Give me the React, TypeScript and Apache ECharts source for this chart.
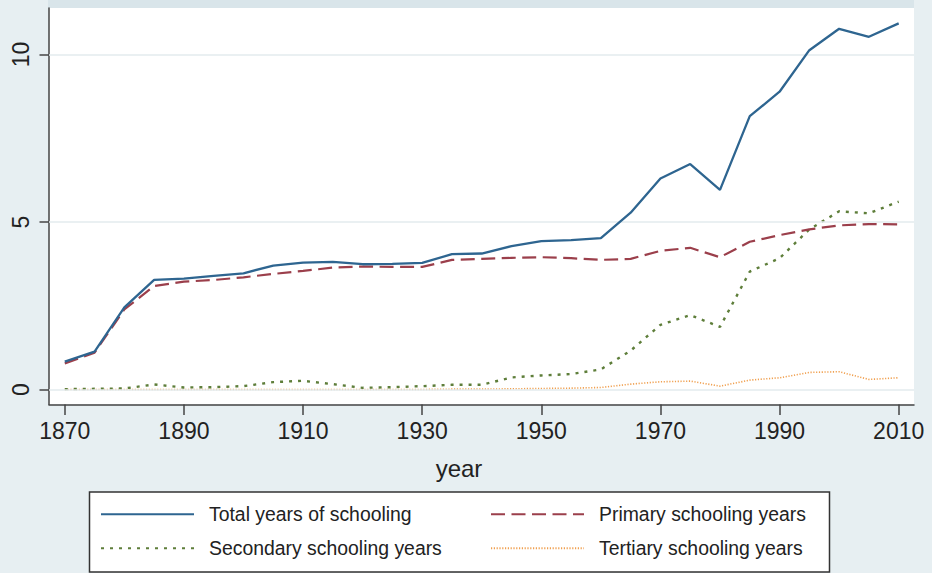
import React, { useEffect, useRef } from "react";
import * as echarts from "echarts";

const years = [1870, 1875, 1880, 1885, 1890, 1895, 1900, 1905, 1910, 1915, 1920, 1925, 1930, 1935, 1940, 1945, 1950, 1955, 1960, 1965, 1970, 1975, 1980, 1985, 1990, 1995, 2000, 2005, 2010];
const totalYears = [0.83, 1.13, 2.45, 3.27, 3.31, 3.39, 3.47, 3.70, 3.79, 3.81, 3.74, 3.75, 3.78, 4.04, 4.06, 4.28, 4.43, 4.46, 4.52, 5.28, 6.30, 6.73, 5.96, 8.16, 8.89, 10.13, 10.77, 10.53, 10.93];
const primaryYears = [0.78, 1.10, 2.39, 3.09, 3.22, 3.27, 3.35, 3.45, 3.54, 3.64, 3.67, 3.66, 3.66, 3.87, 3.90, 3.93, 3.95, 3.92, 3.87, 3.90, 4.14, 4.23, 3.95, 4.41, 4.61, 4.78, 4.90, 4.94, 4.93];
const secondaryYears = [0.01, 0.02, 0.03, 0.15, 0.06, 0.07, 0.10, 0.22, 0.26, 0.16, 0.05, 0.07, 0.10, 0.14, 0.14, 0.36, 0.42, 0.46, 0.60, 1.16, 1.93, 2.22, 1.87, 3.52, 3.92, 4.78, 5.32, 5.26, 5.61];
const tertiaryYears = [0, 0, 0, 0, 0, 0, 0, 0, 0, 0, 0, 0, 0, 0.01, 0.01, 0.02, 0.03, 0.04, 0.06, 0.16, 0.23, 0.25, 0.10, 0.28, 0.35, 0.51, 0.53, 0.30, 0.35];

const xTicks = [1870, 1890, 1910, 1930, 1950, 1970, 1990, 2010];
const yTicks = [0, 5, 10];

const seriesNames = [
  "Total years of schooling",
  "Primary schooling years",
  "Secondary schooling years",
  "Tertiary schooling years",
];

const FONT = "'Liberation Sans', Arial, Helvetica, sans-serif";
const TEXT = "#222222";
const AXIS = "#444444";

function pairs(vals: number[]) {
  return years.map((y, i) => [y, vals[i]]);
}

export default function App() {
  const ref = useRef<HTMLDivElement | null>(null);
  useEffect(() => {
    if (!ref.current) return;
    const chart = echarts.init(ref.current, undefined, { renderer: "svg" });
    const legendBase = (name: string, left: number, top: number) => ({
      data: [name],
      left,
      top,
      padding: 0,
      itemWidth: 93,
      itemHeight: 12,
      selectedMode: false,
      itemStyle: { opacity: 0, color: "transparent", borderWidth: 0 },
      textStyle: {
        fontFamily: FONT,
        fontSize: 19.4,
        color: TEXT,
        lineHeight: 22,
        padding: [0, 0, 0, 10],
      },
    });
    chart.setOption({
      animation: false,
      backgroundColor: "#e7eff2",
      textStyle: { fontFamily: FONT },
      graphic: [
        {
          type: "rect",
          z: -10,
          shape: { x: 48, y: 0, width: 866, height: 8 },
          style: { fill: "#d9e5ea" },
        },
        {
          type: "rect",
          z: 0,
          shape: { x: 89.5, y: 492, width: 740, height: 80 },
          style: { fill: "#ffffff", stroke: "#333333", lineWidth: 1.5 },
        },
      ],
      grid: {
        left: 49,
        right: 18,
        top: 8,
        bottom: 168.5,
        show: true,
        backgroundColor: "#ffffff",
        borderWidth: 0,
      },
      legend: [
        legendBase(seriesNames[0], 100, 503.3),
        legendBase(seriesNames[1], 490, 503.3),
        legendBase(seriesNames[2], 100, 537.3),
        legendBase(seriesNames[3], 490, 537.3),
      ],
      xAxis: {
        type: "value",
        min: 1867.35,
        max: 2012.57,
        name: "year",
        nameLocation: "middle",
        nameGap: 51.5,
        nameTextStyle: {
          fontFamily: FONT,
          fontSize: 24,
          color: TEXT,
          lineHeight: 24,
          padding: [0, 45, 0, 0],
        },
        axisLine: { show: true, onZero: false, lineStyle: { color: AXIS, width: 1.5 } },
        axisTick: {
          show: true,
          length: 10.5,
          customValues: xTicks,
          lineStyle: { color: AXIS, width: 1.5 },
        },
        axisLabel: {
          customValues: xTicks,
          formatter: (v: number) => String(v),
          margin: 15,
          fontFamily: FONT,
          fontSize: 23,
          lineHeight: 23,
          color: TEXT,
        },
        splitLine: { show: false },
      },
      yAxis: {
        type: "value",
        min: -0.448,
        max: 11.39,
        axisLine: { show: true, onZero: false, lineStyle: { color: AXIS, width: 1.5 } },
        axisTick: {
          show: true,
          length: 9.5,
          customValues: yTicks,
          lineStyle: { color: AXIS, width: 1.5 },
        },
        axisLabel: {
          customValues: yTicks,
          formatter: (v: number) => String(v),
          rotate: 90,
          margin: 17,
          fontFamily: FONT,
          fontSize: 23,
          lineHeight: 23,
          color: TEXT,
        },
        splitLine: { show: false },
      },
      series: [
        {
          type: "line",
          name: "grid",
          data: [],
          z: 1,
          silent: true,
          markLine: {
            silent: true,
            symbol: "none",
            label: { show: false },
            lineStyle: { color: "#e3ebee", width: 1.5, type: "solid" },
            data: yTicks.map((v) => ({ yAxis: v })),
          },
        },
        {
          type: "line",
          name: seriesNames[0],
          data: pairs(totalYears),
          symbol: "none",
          z: 5,
          lineStyle: { color: "#2e6590", width: 2.3, type: "solid" },
          itemStyle: { color: "#2e6590" },
        },
        {
          type: "line",
          name: seriesNames[1],
          data: pairs(primaryYears),
          symbol: "none",
          z: 4,
          lineStyle: { color: "#9b3f4b", width: 2.2, type: [14, 6.5] },
          itemStyle: { color: "#9b3f4b" },
        },
        {
          type: "line",
          name: seriesNames[2],
          data: pairs(secondaryYears),
          symbol: "none",
          z: 3,
          lineStyle: { color: "#5e7e3a", width: 2.4, type: [3, 6] },
          itemStyle: { color: "#5e7e3a" },
        },
        {
          type: "line",
          name: seriesNames[3],
          data: pairs(tertiaryYears),
          symbol: "none",
          z: 2,
          lineStyle: { color: "#f0a050", width: 1.6, type: [1.2, 1.6] },
          itemStyle: { color: "#f0a050" },
        },
      ],
    });
    return () => chart.dispose();
  }, []);
  return (
    <div
      ref={ref}
      style={{ position: "fixed", left: 0, top: 0, width: 932, height: 573 }}
    />
  );
}
